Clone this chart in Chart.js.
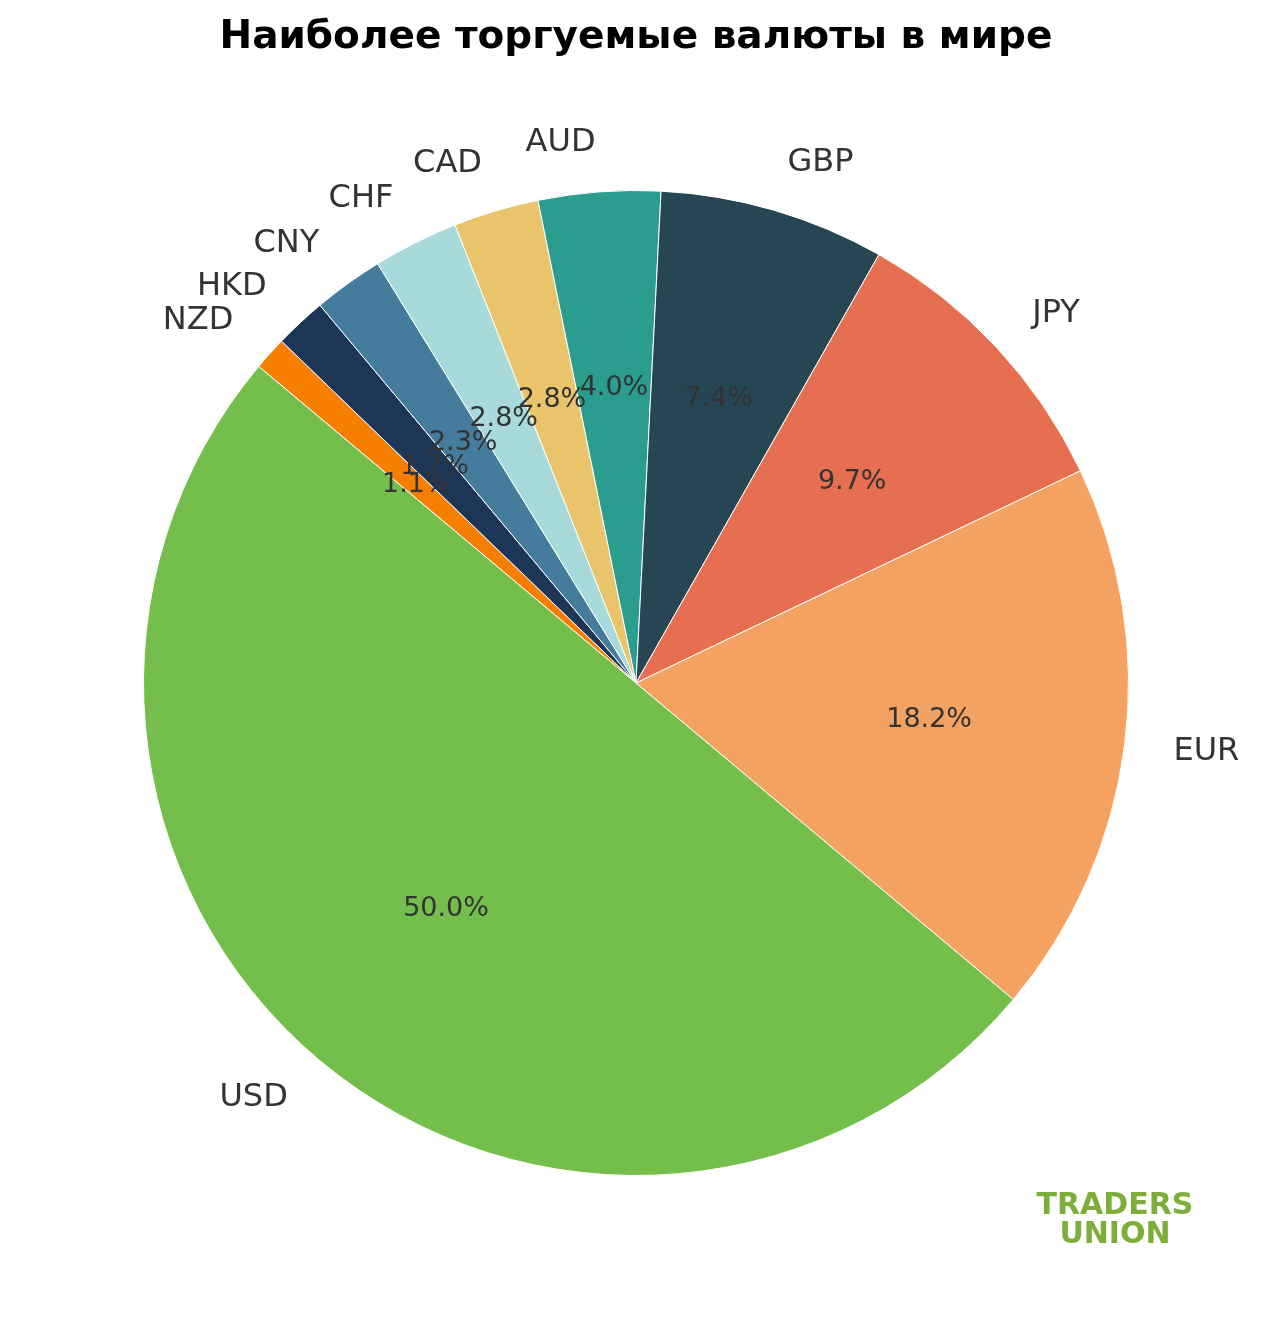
<html>
<head></head>
<script src="https://cdn.jsdelivr.net/npm/chart.js"></script>
<body style="margin:0;background:#fff">
  <canvas id="myChart" width="1272" height="1319"></canvas>
</body>
<script>
  // matplotlib order (counterclockwise from 140 deg)
  const currencies = ['USD', 'EUR', 'JPY', 'GBP', 'AUD', 'CAD', 'CHF', 'CNY', 'HKD', 'NZD'];
  const shares = [50.0, 18.2, 9.7, 7.4, 4.0, 2.8, 2.8, 2.3, 1.7, 1.1];
  const colors = ['#74BE4B', '#F3A261', '#E76F51', '#264653', '#2A9D8F', '#E9C46A', '#A8DADC', '#457B9D', '#1D3557', '#F77F00'];

  // chart.js draws clockwise, so reverse
  const labels = currencies.slice().reverse();
  const values = shares.slice().reverse();
  const bg = colors.slice().reverse();

  const FONT = '"DejaVu Sans", sans-serif';

  const pieText = {
    id: 'pieText',
    afterDraw(chart) {
      const ctx = chart.ctx;
      ctx.save();
      ctx.fillStyle = '#000';
      ctx.font = 'bold 39px ' + FONT;
      ctx.textAlign = 'center';
      ctx.textBaseline = 'middle';
      ctx.fillText('Наиболее торгуемые валюты в мире', 636, 38);

      const total = values.reduce((a, b) => a + b, 0);
      chart.getDatasetMeta(0).data.forEach((arc, i) => {
        const mid = (arc.startAngle + arc.endAngle) / 2;
        const r = arc.outerRadius;
        const lx = arc.x + Math.cos(mid) * r * 1.1;
        const ly = arc.y + Math.sin(mid) * r * 1.1;
        ctx.fillStyle = '#333';
        ctx.font = '32px ' + FONT;
        ctx.textAlign = Math.cos(mid) >= 0 ? 'left' : 'right';
        ctx.fillText(labels[i], lx, ly);
        const px = arc.x + Math.cos(mid) * r * 0.6;
        const py = arc.y + Math.sin(mid) * r * 0.6;
        ctx.font = '27px ' + FONT;
        ctx.textAlign = 'center';
        ctx.fillText((values[i] / total * 100).toFixed(1) + '%', px, py);
      });

      ctx.fillStyle = '#7BAF3A';
      ctx.font = 'bold 30px ' + FONT;
      ctx.fillText('TRADERS', 1115, 1206);
      ctx.fillText('UNION', 1115, 1235);
      ctx.restore();
    }
  };

  new Chart(document.getElementById('myChart'), {
    type: 'pie',
    data: {
      labels: labels,
      datasets: [{ data: values, backgroundColor: bg, borderColor: '#fff', borderWidth: 1 }]
    },
    options: {
      responsive: false,
      animation: false,
      rotation: -50,
      layout: { padding: { top: 190, bottom: 143, left: 143, right: 143 } },
      plugins: { legend: { display: false }, tooltip: { enabled: false } }
    },
    plugins: [pieText]
  });
</script>
</html>
